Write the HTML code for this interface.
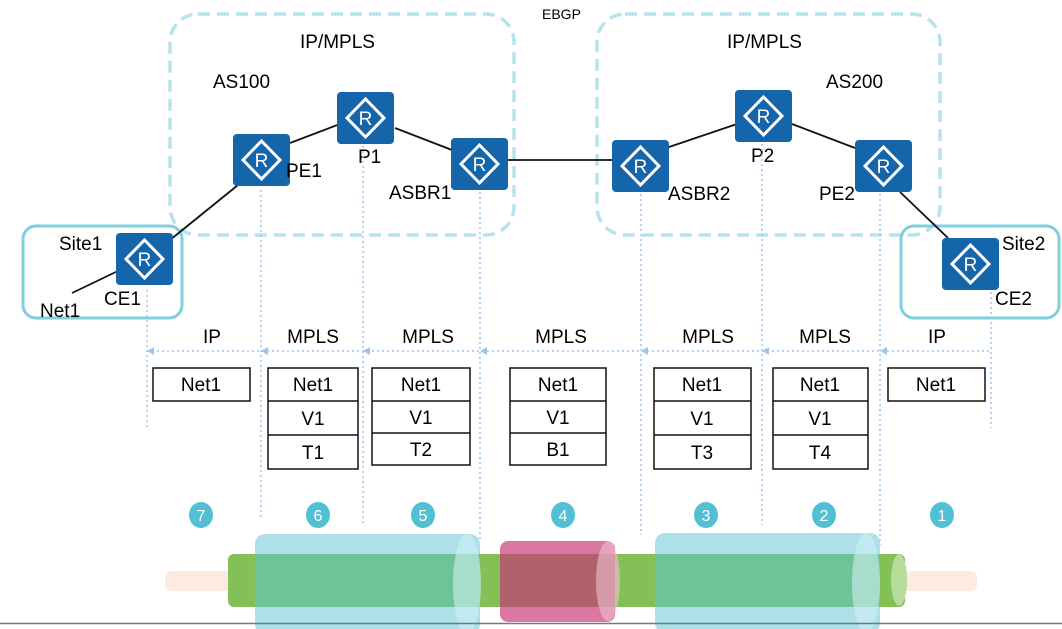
<!DOCTYPE html>
<html><head><meta charset="utf-8"><style>
html,body{margin:0;padding:0;background:#fff}
svg{display:block}
text{font-family:"Liberation Sans","DejaVu Sans",sans-serif;fill:#000}
</style></head><body>
<svg width="1062" height="629" viewBox="0 0 1062 629" xmlns="http://www.w3.org/2000/svg">
<defs>
<g id="r">
<rect x="0" y="0" width="57" height="52" rx="4" fill="#1565ab"/>
<path d="M28.5 7 L47 26 L28.5 45 L10 26 Z" fill="none" stroke="#fff" stroke-width="3"/>
<text x="28.5" y="33" font-size="19" text-anchor="middle" style="fill:#fff">R</text>
</g>
</defs>
<rect x="170" y="14" width="344" height="221" rx="28" fill="none" stroke="#b5e4ec" stroke-width="3.5" stroke-dasharray="12,7"/>
<rect x="597" y="14" width="343" height="221" rx="28" fill="none" stroke="#b5e4ec" stroke-width="3.5" stroke-dasharray="12,7"/>
<rect x="23" y="226" width="159" height="92" rx="13" fill="none" stroke="#7fd0dc" stroke-width="3"/>
<rect x="901" y="226" width="158" height="92" rx="13" fill="none" stroke="#7fd0dc" stroke-width="3"/>
<g stroke="#111" stroke-width="1.8">
<line x1="72" y1="293" x2="120" y2="270"/>
<line x1="170" y1="240" x2="238" y2="185"/>
<line x1="290" y1="143" x2="340" y2="124"/>
<line x1="395" y1="128" x2="452" y2="150"/>
<line x1="508" y1="160" x2="613" y2="160"/>
<line x1="669" y1="147" x2="737" y2="124"/>
<line x1="792" y1="124" x2="855" y2="148"/>
<line x1="900" y1="192" x2="948" y2="238"/>
</g>
<use href="#r" x="116" y="233"/>
<use href="#r" x="233" y="134"/>
<use href="#r" x="337" y="92"/>
<use href="#r" x="451" y="138"/>
<use href="#r" x="612" y="140"/>
<use href="#r" x="735" y="90"/>
<use href="#r" x="855" y="140"/>
<use href="#r" x="942" y="238"/>
<g font-size="19">
<text x="300" y="48">IP/MPLS</text>
<text x="727" y="48">IP/MPLS</text>
<text x="213" y="88">AS100</text>
<text x="826" y="88">AS200</text>
<text x="286" y="177">PE1</text>
<text x="358" y="163">P1</text>
<text x="389" y="199">ASBR1</text>
<text x="668" y="200">ASBR2</text>
<text x="751" y="162">P2</text>
<text x="819" y="200">PE2</text>
<text x="59" y="250">Site1</text>
<text x="40" y="317">Net1</text>
<text x="104" y="305">CE1</text>
<text x="1002" y="250">Site2</text>
<text x="995" y="305">CE2</text>
</g>
<text x="542" y="19" font-size="14">EBGP</text>
<g stroke="#9ec4f0" stroke-width="1.5" stroke-dasharray="2,3">
<line x1="147" y1="290" x2="147" y2="430"/>
<line x1="261" y1="190" x2="261" y2="520"/>
<line x1="363" y1="146" x2="363" y2="525"/>
<line x1="480" y1="192" x2="480" y2="540"/>
<line x1="641" y1="194" x2="641" y2="535"/>
<line x1="762" y1="144" x2="762" y2="525"/>
<line x1="880" y1="194" x2="880" y2="545"/>
<line x1="991" y1="292" x2="991" y2="428"/>
<line x1="147" y1="351" x2="991" y2="351"/>
</g>
<g fill="#9ec4f0">
<path d="M147 351 l7 -4 v8z"/><path d="M261 351 l7 -4 v8z"/><path d="M363 351 l7 -4 v8z"/><path d="M480 351 l7 -4 v8z"/><path d="M641 351 l7 -4 v8z"/><path d="M762 351 l7 -4 v8z"/><path d="M880 351 l7 -4 v8z"/>
</g>
<g font-size="19" text-anchor="middle">
<text x="212" y="343">IP</text>
<text x="313" y="343">MPLS</text>
<text x="428" y="343">MPLS</text>
<text x="561" y="343">MPLS</text>
<text x="708" y="343">MPLS</text>
<text x="825" y="343">MPLS</text>
<text x="937" y="343">IP</text>
</g>
<g fill="none" stroke="#111" stroke-width="1.5">
<rect x="153" y="368" width="97" height="33"/>
<rect x="268" y="368" width="90" height="101"/><line x1="268" y1="401" x2="358" y2="401"/><line x1="268" y1="435" x2="358" y2="435"/>
<rect x="372" y="368" width="98" height="97"/><line x1="372" y1="401" x2="470" y2="401"/><line x1="372" y1="433" x2="470" y2="433"/>
<rect x="510" y="368" width="96" height="97"/><line x1="510" y1="401" x2="606" y2="401"/><line x1="510" y1="433" x2="606" y2="433"/>
<rect x="654" y="368" width="97" height="101"/><line x1="654" y1="401" x2="751" y2="401"/><line x1="654" y1="435" x2="751" y2="435"/>
<rect x="773" y="368" width="95" height="101"/><line x1="773" y1="401" x2="868" y2="401"/><line x1="773" y1="435" x2="868" y2="435"/>
<rect x="888" y="368" width="97" height="33"/>
</g>
<g font-size="19" text-anchor="middle">
<text x="201" y="391">Net1</text>
<text x="313" y="391">Net1</text><text x="313" y="425">V1</text><text x="313" y="459">T1</text>
<text x="421" y="391">Net1</text><text x="421" y="424">V1</text><text x="421" y="456">T2</text>
<text x="558" y="391">Net1</text><text x="558" y="424">V1</text><text x="558" y="456">B1</text>
<text x="702" y="391">Net1</text><text x="702" y="425">V1</text><text x="702" y="459">T3</text>
<text x="820" y="391">Net1</text><text x="820" y="425">V1</text><text x="820" y="459">T4</text>
<text x="936" y="391">Net1</text>
</g>
<g fill="#52c0d4">
<ellipse cx="201" cy="515" rx="12" ry="13"/><ellipse cx="318" cy="515" rx="12" ry="13"/><ellipse cx="423" cy="515" rx="12" ry="13"/><ellipse cx="563" cy="515" rx="12" ry="13"/><ellipse cx="706" cy="515" rx="12" ry="13"/><ellipse cx="824" cy="515" rx="12" ry="13"/><ellipse cx="942" cy="515" rx="12" ry="13"/>
</g>
<g font-size="16" text-anchor="middle">
<text x="201" y="521" style="fill:#fff">7</text><text x="318" y="521" style="fill:#fff">6</text><text x="423" y="521" style="fill:#fff">5</text><text x="563" y="521" style="fill:#fff">4</text><text x="706" y="521" style="fill:#fff">3</text><text x="824" y="521" style="fill:#fff">2</text><text x="942" y="521" style="fill:#fff">1</text>
</g>
<rect x="165" y="571" width="812" height="20" rx="6" fill="#fdebe2"/>
<rect x="228" y="554" width="677" height="53" rx="6" fill="#83c157"/>
<ellipse cx="899" cy="580" rx="8" ry="26" fill="#b6dc9a"/>
<!-- blue cylinder 1 -->
<rect x="255" y="534" width="225" height="100" rx="10" fill="#ade0e8"/>
<rect x="255" y="554" width="225" height="53" fill="#6cc497"/>
<ellipse cx="467" cy="584" rx="14" ry="50" fill="#d0eff4" opacity="0.6"/>
<!-- blue cylinder 2 -->
<rect x="655" y="533" width="225" height="100" rx="10" fill="#ade0e8"/>
<rect x="655" y="554" width="225" height="53" fill="#6cc497"/>
<ellipse cx="866" cy="583" rx="14" ry="50" fill="#d0eff4" opacity="0.6"/>
<!-- pink -->
<rect x="500" y="541" width="115" height="81" rx="8" fill="#da77a3"/>
<rect x="500" y="554" width="115" height="53" fill="#b0616c"/>
<ellipse cx="608" cy="581" rx="12" ry="40" fill="#f0c0d0" opacity="0.6"/>
<line x1="0" y1="623.5" x2="1062" y2="623.5" stroke="#777" stroke-width="1.5"/>
</svg>
</body></html>
